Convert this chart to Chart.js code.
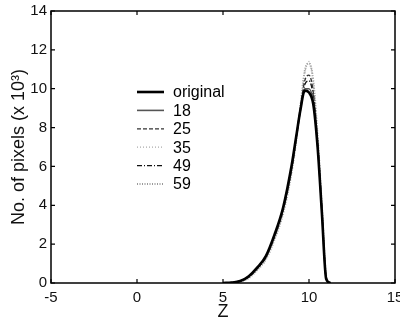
<!DOCTYPE html>
<html>
<head>
<meta charset="utf-8">
<script src="https://cdn.jsdelivr.net/npm/chart.js@4/dist/chart.umd.min.js"></script>
<style>
  html, body { margin: 0; padding: 0; background: #fff; }
  #wrap { width: 400px; height: 319px; }
</style>
</head>
<body>
<div id="wrap"><canvas id="myChart"></canvas></div>
<script>
// Z positions shared by every curve
let zValues = [5, 5.5, 6, 6.5, 7, 7.5, 8, 8.5, 9, 9.25, 9.5, 9.75, 10, 10.25, 10.5, 10.75, 11, 11.25];

// pixel counts (x 10^3)
let original = [0, 0.02, 0.1, 0.35, 0.8, 1.4, 2.5, 3.9, 6.1, 7.5, 8.9, 9.9, 9.8, 9.2, 7.0, 3.6, 0.2, 0];
let s18 = [0, 0.02, 0.1, 0.33, 0.78, 1.38, 2.45, 3.85, 6.0, 7.45, 8.9, 10.0, 10.0, 9.3, 7.1, 3.7, 0.25, 0];
let s25 = [0, 0.02, 0.09, 0.3, 0.74, 1.32, 2.38, 3.75, 5.9, 7.4, 9.0, 10.4, 10.7, 9.8, 7.3, 3.8, 0.3, 0];
let s35 = [0, 0.01, 0.08, 0.27, 0.7, 1.25, 2.3, 3.65, 5.8, 7.35, 9.1, 10.8, 11.4, 10.3, 7.5, 3.9, 0.3, 0];
let s49 = [0, 0.02, 0.1, 0.32, 0.76, 1.35, 2.42, 3.8, 5.95, 7.4, 8.95, 10.2, 10.4, 9.6, 7.2, 3.75, 0.28, 0];
let s59 = [0, 0.01, 0.07, 0.25, 0.68, 1.22, 2.25, 3.6, 5.75, 7.3, 9.1, 10.9, 11.3, 10.4, 7.6, 3.95, 0.35, 0];

let seriesNames = ['original', '18', '25', '35', '49', '59'];
let seriesValues = [original, s18, s25, s35, s49, s59];

// axis ranges / tick steps
let xTicks = [-5, 0, 5, 10, 15];
let yTicks = [0, 2, 4, 6, 8, 10, 12, 14];

// line looks for each series
let lineColors = ['#000000', '#555555', '#333333', '#aaaaaa', '#111111', '#999999'];
let lineWidths = [2.6, 1.6, 1.3, 1.3, 1.3, 2];
let lineDashes = [[], [], [4, 2], [1, 2], [5, 2, 1, 2], [1, 1.5]];

const fontName = '"Liberation Sans", Arial, sans-serif';

// build datasets from the arrays
let datasets = seriesValues.map((vals, i) => ({
    label: seriesNames[i],
    data: vals.map((v, j) => ({ x: zValues[j], y: v })),
    borderColor: lineColors[i],
    borderWidth: lineWidths[i],
    borderDash: lineDashes[i],
    pointRadius: 0,
    fill: false,
    cubicInterpolationMode: 'monotone'
}));

// box, inward ticks and legend drawn on top of the chart
const framePlugin = {
    id: 'frame',
    afterDraw(chart) {
        const ctx = chart.ctx;
        const a = chart.chartArea;
        const xs = chart.scales.x;
        const ys = chart.scales.y;
        ctx.save();
        ctx.strokeStyle = '#000';
        ctx.lineWidth = 1.5;
        ctx.strokeRect(a.left, a.top, a.right - a.left, a.bottom - a.top);
        ctx.lineWidth = 1.2;
        ctx.beginPath();
        xTicks.forEach(t => {
            let px = xs.getPixelForValue(t);
            ctx.moveTo(px, a.bottom); ctx.lineTo(px, a.bottom - 4);
            ctx.moveTo(px, a.top); ctx.lineTo(px, a.top + 4);
        });
        yTicks.forEach(t => {
            let py = ys.getPixelForValue(t);
            ctx.moveTo(a.left, py); ctx.lineTo(a.left + 4, py);
            ctx.moveTo(a.right, py); ctx.lineTo(a.right - 4, py);
        });
        ctx.stroke();

        // legend
        ctx.font = '16px ' + fontName;
        ctx.textBaseline = 'middle';
        ctx.fillStyle = '#000';
        chart.data.datasets.forEach((ds, i) => {
            let y = 92 + i * 18.4;
            ctx.strokeStyle = ds.borderColor;
            ctx.lineWidth = ds.borderWidth;
            ctx.setLineDash(ds.borderDash);
            ctx.beginPath();
            ctx.moveTo(137, y);
            ctx.lineTo(164, y);
            ctx.stroke();
            ctx.setLineDash([]);
            ctx.fillText(ds.label, 173, y + 1);
        });
        ctx.restore();
    }
};

const chart = new Chart(document.getElementById('myChart'), {
    type: 'line',
    data: { datasets: datasets },
    options: {
        responsive: true,
        maintainAspectRatio: false,
        animation: false,
        layout: { padding: { top: 11, right: 5, left: 0, bottom: 0 } },
        plugins: {
            legend: { display: false },
            tooltip: { enabled: false }
        },
        scales: {
            x: {
                type: 'linear',
                min: -5,
                max: 15,
                afterFit: s => { s.height = 36; s.paddingRight = 0; s.paddingLeft = 0; },
                afterBuildTicks: s => { s.ticks = xTicks.map(v => ({ value: v })); },
                grid: { display: false, drawTicks: false },
                border: { display: false },
                ticks: { color: '#111', padding: 6, maxRotation: 0, font: { family: fontName, size: 15 } },
                title: {
                    display: true,
                    text: 'Z',
                    color: '#111',
                    padding: 0,
                    font: { family: fontName, size: 18, lineHeight: 0.8 }
                }
            },
            y: {
                min: 0,
                max: 14,
                afterFit: s => { s.width = 51; s.paddingTop = 0; s.paddingBottom = 0; },
                afterBuildTicks: s => { s.ticks = yTicks.map(v => ({ value: v })); },
                grid: { display: false, drawTicks: false },
                border: { display: false },
                ticks: { color: '#111', padding: 4, font: { family: fontName, size: 15 } },
                title: {
                    display: true,
                    text: 'No. of pixels (x 10³)',
                    color: '#111',
                    padding: { top: 8 },
                    font: { family: fontName, size: 18 }
                }
            }
        }
    },
    plugins: [framePlugin]
});
</script>
</body>
</html>
